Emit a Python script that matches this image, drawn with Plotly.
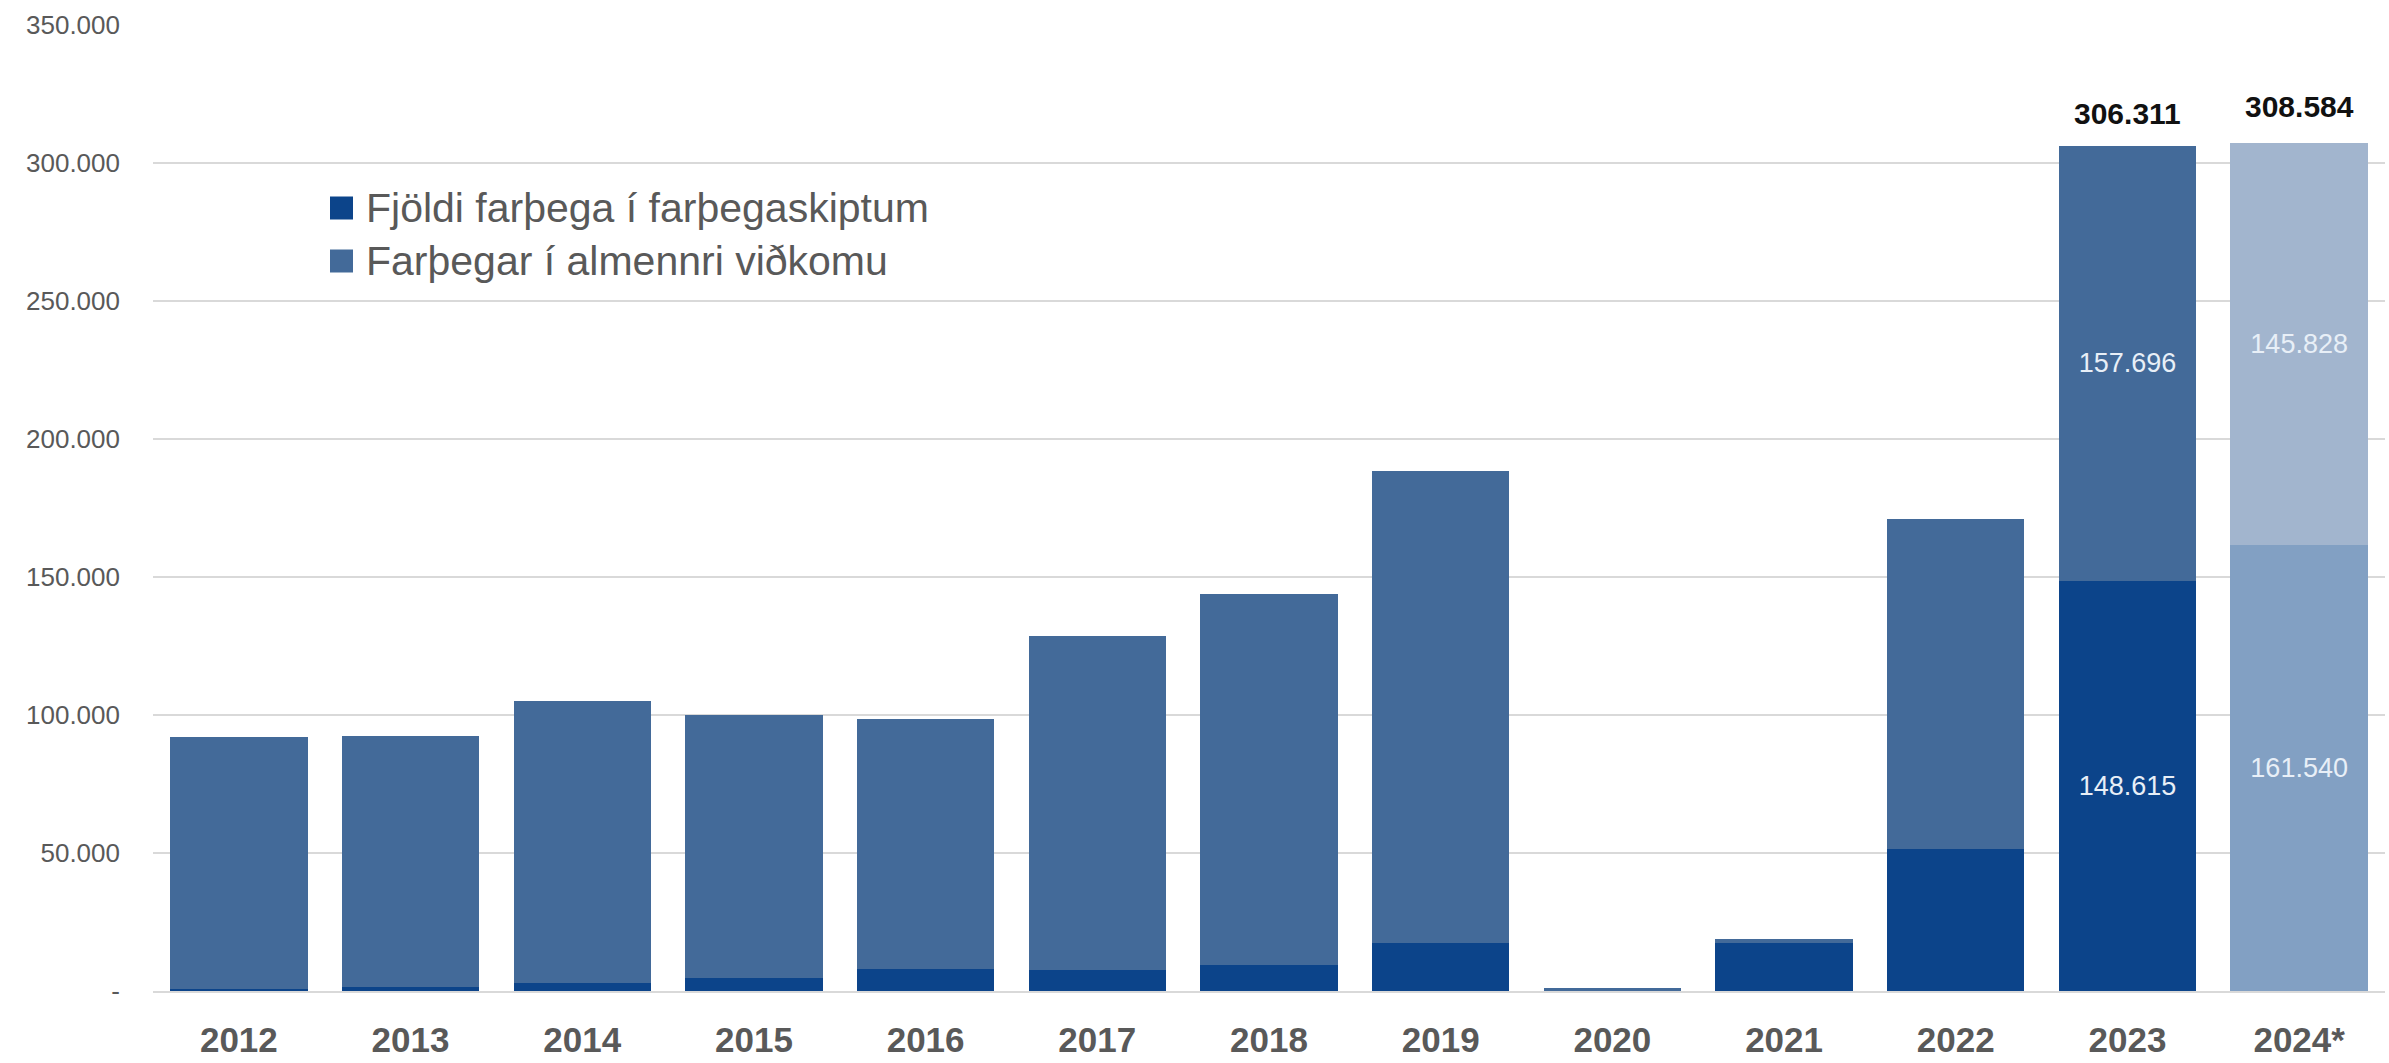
import plotly.graph_objects as go

# ---- data ----
years = ["2012", "2013", "2014", "2015", "2016", "2017", "2018", "2019",
         "2020", "2021", "2022", "2023", "2024*"]
exchange = [800, 1600, 2800, 4800, 8000, 7500, 9500, 17500, 300, 17500, 51500, 148615, 161540]
general = [91200, 90900, 102200, 95200, 90500, 121000, 134500, 171000, 700, 1300, 119500, 157696, 145828]
label_years = ["2023", "2024*"]
label_totals = [306311, 308584]
ytick_vals = [0, 50000, 100000, 150000, 200000, 250000, 300000, 350000]
ytick_text = ["-", "50.000", "100.000", "150.000", "200.000", "250.000", "300.000", "350.000"]
legend_names = ["Fjöldi farþega í farþegaskiptum", "Farþegar í almennri viðkomu"]
shown_labels = {"2023", "2024*"}

def fmt(v):
    return f"{v:,}".replace(",", ".")

FONT = "Liberation Sans, Arial, sans-serif"
c_exch = "#0C448A"
c_gen = "#436A99"
c_exch_24 = "#82A0C3"
c_gen_24 = "#A2B5CE"

exch_colors = [c_exch_24 if y == "2024*" else c_exch for y in years]
gen_colors = [c_gen_24 if y == "2024*" else c_gen for y in years]

fig = go.Figure()
fig.add_trace(go.Bar(
    x=years, y=exchange, name=legend_names[0],
    marker=dict(color=exch_colors, line=dict(width=0)),
    text=[fmt(v) if y in shown_labels else "" for y, v in zip(years, exchange)],
    textposition="inside", insidetextanchor="middle", textangle=0,
    constraintext="none",
    textfont=dict(family=FONT, size=27, color="#E8EFF7"),
    showlegend=False, hoverinfo="x+y",
))
fig.add_trace(go.Bar(
    x=years, y=general, name=legend_names[1],
    marker=dict(color=gen_colors, line=dict(width=0)),
    text=[fmt(v) if y in shown_labels else "" for y, v in zip(years, general)],
    textposition="inside", insidetextanchor="middle", textangle=0,
    constraintext="none",
    textfont=dict(family=FONT, size=27, color="#E8EFF7"),
    showlegend=False, hoverinfo="x+y",
))

# manual legend (paper coordinates)
L, W, B, H = 153, 2232, 991, 966
def px(xp):
    return (xp - L) / W
def py(yp):
    return (B - yp) / H

legend_rows = [(legend_names[0], c_exch, 208), (legend_names[1], c_gen, 261)]
shapes = []
annotations = []
for name, col, yc in legend_rows:
    shapes.append(dict(type="rect", xref="paper", yref="paper",
                       x0=px(330), x1=px(353), y0=py(yc - 11.5), y1=py(yc + 11.5),
                       fillcolor=col, line=dict(width=0)))
    annotations.append(dict(xref="paper", yref="paper", x=px(364), y=py(yc),
                            xanchor="left", yanchor="middle", showarrow=False,
                            text=name, font=dict(family=FONT, size=41, color="#595959")))

# totals above the last two bars (category index positions)
for yr, tot in zip(label_years, label_totals):
    annotations.append(dict(xref="x", yref="y", x=years.index(yr), y=tot,
                            xanchor="center", yanchor="bottom", yshift=14,
                            showarrow=False, text=fmt(tot),
                            font=dict(family=FONT, size=30, color="#111111", weight="bold")))

fig.update_layout(
    width=2389, height=1063,
    margin=dict(l=153, r=4, t=25, b=72, autoexpand=False),
    paper_bgcolor="white", plot_bgcolor="white",
    barmode="stack", bargap=0.2,
    shapes=shapes, annotations=annotations,
    showlegend=False,
    xaxis=dict(
        type="category", range=[-0.5, len(years) - 0.5],
        showgrid=False, zeroline=False,
        showline=True, linecolor="#D9D9D9", linewidth=2,
        tickfont=dict(family=FONT, size=35, color="#595959", weight="bold"),
        ticks="", ticklabelstandoff=17, automargin=False,
    ),
    yaxis=dict(
        range=[0, 350000], tickmode="array", tickvals=ytick_vals, ticktext=ytick_text,
        showgrid=True, gridcolor="#D9D9D9", gridwidth=2, zeroline=False, showline=False,
        tickfont=dict(family=FONT, size=26, color="#595959"),
        ticks="", ticklabelstandoff=32, automargin=False,
    ),
)

fig.write_html("out.html", config={"displayModeBar": False},
               post_script="document.body.style.margin='0';")
